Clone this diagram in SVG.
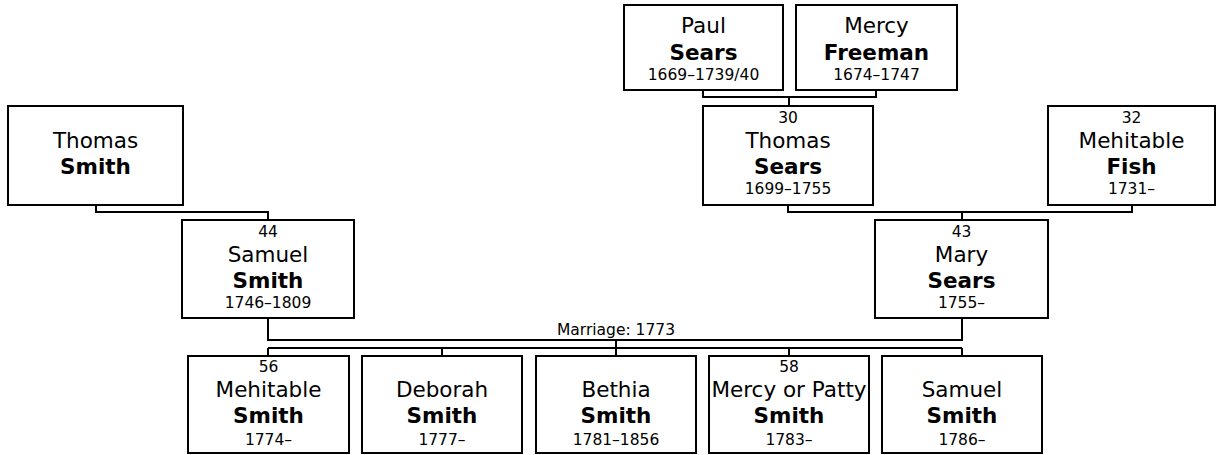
<svg xmlns="http://www.w3.org/2000/svg" width="1218" height="455" viewBox="0 0 1218 455">
<style>
.box{fill:#fff;stroke:#000;stroke-width:2}
.ln{fill:none;stroke:#000;stroke-width:2}
text{font-family:"DejaVu Sans",Verdana,sans-serif;fill:#000;text-anchor:middle}
.num{font-size:15.5px}
.given{font-size:21.5px}
.sur{font-size:21.5px;font-weight:bold}
.date{font-size:15.5px}
.mar{font-size:15.5px}
</style>
<rect width="1218" height="455" fill="#fff"/>
<g id="connectors">
<path class="ln" d="M703,90 V97 H876 V90 M789,97 V106"/>
<path class="ln" d="M788,205 V212 H1132 V205 M962,212 V220"/>
<path class="ln" d="M96,205 V212 H268 V220"/>
<path class="ln" d="M268,318 V340 H962 V318"/>
<path class="ln" d="M616,340 V348 M268,348 H962 M268,348 V356 M442,348 V356 M616,348 V356 M789,348 V356 M962,348 V356"/>
<text class="mar" x="616" y="335">Marriage: 1773</text>
</g>
<g id="paul-sears">
<rect class="box" x="624" y="5" width="159" height="85"/>
<text class="given" x="703.5" y="33">Paul</text>
<text class="sur" x="703.5" y="60">Sears</text>
<text class="date" x="703.5" y="80">1669–1739/40</text>
</g>
<g id="mercy-freeman">
<rect class="box" x="796" y="5" width="161" height="85"/>
<text class="given" x="876.5" y="33">Mercy</text>
<text class="sur" x="876.5" y="60">Freeman</text>
<text class="date" x="876.5" y="80">1674–1747</text>
</g>
<g id="thomas-smith">
<rect class="box" x="8" y="106" width="175" height="99"/>
<text class="given" x="95.5" y="148">Thomas</text>
<text class="sur" x="95.5" y="174">Smith</text>
</g>
<g id="thomas-sears">
<rect class="box" x="703" y="106" width="170" height="99"/>
<text class="num" x="788" y="123">30</text>
<text class="given" x="788" y="148">Thomas</text>
<text class="sur" x="788" y="174">Sears</text>
<text class="date" x="788" y="194">1699–1755</text>
</g>
<g id="mehitable-fish">
<rect class="box" x="1048" y="106" width="167" height="99"/>
<text class="num" x="1131.5" y="123">32</text>
<text class="given" x="1131.5" y="148">Mehitable</text>
<text class="sur" x="1131.5" y="174">Fish</text>
<text class="date" x="1131.5" y="194">1731–</text>
</g>
<g id="samuel-smith">
<rect class="box" x="182" y="220" width="172" height="98"/>
<text class="num" x="268" y="237">44</text>
<text class="given" x="268" y="262">Samuel</text>
<text class="sur" x="268" y="288">Smith</text>
<text class="date" x="268" y="308">1746–1809</text>
</g>
<g id="mary-sears">
<rect class="box" x="875" y="220" width="173" height="98"/>
<text class="num" x="961.5" y="237">43</text>
<text class="given" x="961.5" y="262">Mary</text>
<text class="sur" x="961.5" y="288">Sears</text>
<text class="date" x="961.5" y="308">1755–</text>
</g>
<g id="mehitable-smith">
<rect class="box" x="188" y="356" width="161" height="97"/>
<text class="num" x="268.5" y="372">56</text>
<text class="given" x="268.5" y="397">Mehitable</text>
<text class="sur" x="268.5" y="423">Smith</text>
<text class="date" x="268.5" y="445">1774–</text>
</g>
<g id="deborah-smith">
<rect class="box" x="362" y="356" width="160" height="97"/>
<text class="given" x="442" y="397">Deborah</text>
<text class="sur" x="442" y="423">Smith</text>
<text class="date" x="442" y="445">1777–</text>
</g>
<g id="bethia-smith">
<rect class="box" x="536" y="356" width="160" height="97"/>
<text class="given" x="616" y="397">Bethia</text>
<text class="sur" x="616" y="423">Smith</text>
<text class="date" x="616" y="445">1781–1856</text>
</g>
<g id="mercy-patty-smith">
<rect class="box" x="709" y="356" width="160" height="97"/>
<text class="num" x="789" y="372">58</text>
<text class="given" x="789" y="397">Mercy or Patty</text>
<text class="sur" x="789" y="423">Smith</text>
<text class="date" x="789" y="445">1783–</text>
</g>
<g id="samuel-smith-jr">
<rect class="box" x="882" y="356" width="160" height="97"/>
<text class="given" x="962" y="397">Samuel</text>
<text class="sur" x="962" y="423">Smith</text>
<text class="date" x="962" y="445">1786–</text>
</g>
</svg>
